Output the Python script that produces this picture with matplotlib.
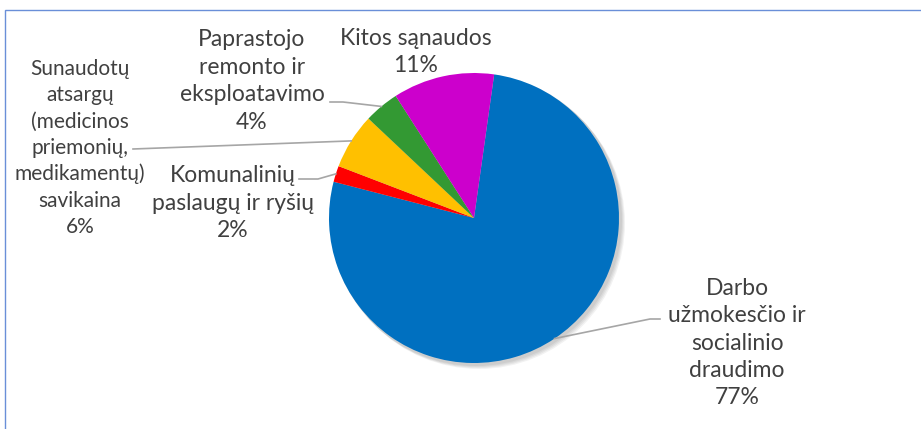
import numpy as np
import matplotlib
matplotlib.use('Agg')
import matplotlib.pyplot as plt
from matplotlib.patches import Circle, Rectangle

plt.rcParams['font.family'] = ['Lato', 'DejaVu Sans']

# data (share of costs, %)
labels = ['Darbo\nužmokesčio ir\nsocialinio\ndraudimo',
          'Komunalinių\npaslaugų ir ryšių',
          'Sunaudotų\natsargų\n(medicinos\npriemonių,\nmedikamentų)\nsavikaina',
          'Paprastojo\nremonto ir\neksploatavimo',
          'Kitos sąnaudos']
values = [76.8, 1.8, 6.2, 3.9, 11.3]
colors = ['#0070C0', '#FF0000', '#FFC000', '#339933', '#CC00CC']

W, H = 921, 429
fig = plt.figure(figsize=(W / 100, H / 100), dpi=100)
ax = fig.add_axes([0, 0, 1, 1])

cx, cy, r = 474, H - 218, 145

# soft shadow behind the pie
for i in range(4):
    ax.add_patch(Circle((cx + 2 + i, cy - 2 - i), r + 1, color='black', alpha=0.05, lw=0, zorder=0))

wedges, _ = ax.pie(values, colors=colors, startangle=82, counterclock=False,
                   center=(cx, cy), radius=r, wedgeprops=dict(linewidth=0))

# label layout: text centre (px from top), font size and leader elbow points
label_pos = [(737, 343), (233, 203), (80, 148), (252, 81), (416, 52)]
label_size = [16.5, 16.5, 15, 16.5, 16.5]
leaders = [[(650, 319), (660, 319)],
           [(318, 179), (299, 179)],
           [(133, 149)],
           [(343, 102), (330, 102)],
           None]

for w, lab, v, pos, fs, lead in zip(wedges, labels, values, label_pos, label_size, leaders):
    ax.text(pos[0], H - pos[1], f'{lab}\n{round(v):.0f}%', ha='center', va='center',
            fontsize=fs, color='#404040', linespacing=1.38)
    if lead:
        ang = np.deg2rad((w.theta1 + w.theta2) / 2)
        pts = [(cx + r * np.cos(ang), cy + r * np.sin(ang))] + [(x, H - y) for x, y in lead]
        xs, ys = zip(*pts)
        ax.plot(xs, ys, color='#a6a6a6', lw=1.2, zorder=1)

ax.set_xlim(0, W)
ax.set_ylim(0, H)
ax.set_aspect('auto')
ax.axis('off')

# chart frame (only top and left edges visible)
fig.patches.append(Rectangle((5 / W, -0.1), 1.2, (H - 10) / H + 0.1, transform=fig.transFigure,
                             fill=False, edgecolor='#6a8fd8', lw=1))

fig.savefig('out.png', dpi=100, facecolor='white')
